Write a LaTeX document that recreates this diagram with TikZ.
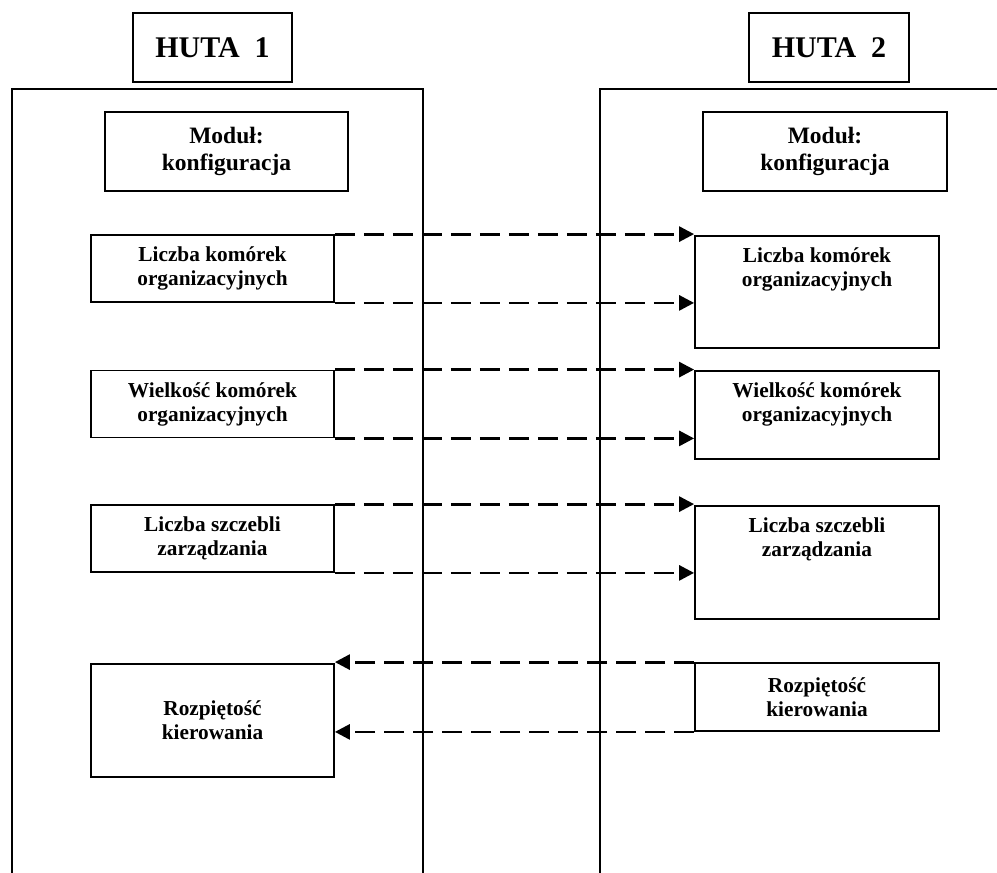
\documentclass[tikz,border=0pt]{standalone}
\usepackage{fontspec}
\setmainfont{Liberation Serif}
\usetikzlibrary{arrows.meta,positioning}

\begin{document}
\begin{tikzpicture}[
    x=1pt,y=-1pt,
    frame/.style={line width=2.4pt},
    title/.style={draw,line width=1.8pt,minimum width=159pt,minimum height=69pt,font=\fontsize{30}{36}\selectfont\bfseries},
    modul/.style={draw,line width=1.8pt,minimum width=243pt,minimum height=79pt,align=center,font=\fontsize{23.5}{27}\selectfont\bfseries},
    box/.style={draw,line width=1.8pt,minimum width=243pt,minimum height=67pt,align=center,font=\fontsize{21.3}{24}\selectfont\bfseries},
    txt/.style={box,draw=none},
    link/.style={->,line width=2.8pt,dash pattern=on 20pt off 9pt},
    >={Triangle[length=15pt,width=15pt]}]
  \useasboundingbox (0,0) rectangle (997,873);
  % huta 1
  \node[title] (h1) at (212.5,47.5) {HUTA~~1};
  \draw[frame] (12,873) |- (423,89) -- (423,873);
  \node[modul] (m1) at (226.5,151.5) {Moduł:\\konfiguracja};
  \node[box] (lk1) at (212.5,268.5) {Liczba komórek\\organizacyjnych};
  \node[box] (wk1) at (212.5,404) {Wielkość komórek\\organizacyjnych};
  \node[box] (ls1) at (212.5,538.5) {Liczba szczebli\\zarządzania};
  \node[box,minimum height=113pt,anchor=north] (rk1) at (212.5,663) {Rozpiętość\\kierowania};
  % huta 2
  \node[title,minimum width=160pt] (h2) at (829,47.5) {HUTA~~2};
  \draw[frame] (600,873) |- (997,89);
  \node[modul,minimum width=244pt] (m2) at (825,151.5) {Moduł:\\konfiguracja};
  \node[box,minimum width=244pt,minimum height=112pt,anchor=north] (lk2) at (817,235) {};
  \node[txt,anchor=north] (lk2t) at (lk2.north) {Liczba komórek\\organizacyjnych};
  \node[box,minimum width=244pt,minimum height=88pt,anchor=north] (wk2) at (817,370) {};
  \node[txt,anchor=north] (wk2t) at (wk2.north) {Wielkość komórek\\organizacyjnych};
  \node[box,minimum width=244pt,minimum height=113pt,anchor=north] (ls2) at (817,505) {};
  \node[txt,anchor=north] (ls2t) at (ls2.north) {Liczba szczebli\\zarządzania};
  \node[box,minimum width=244pt,minimum height=68pt] (rk2) at (817,697) {Rozpiętość\\kierowania};
  % przeplyw
  \draw[link] (lk1.north east) -- (lk1.north east -| lk2.west);
  \draw[link] (lk1.south east) -- (lk1.south east -| lk2.west);
  \draw[link] (wk1.north east) -- (wk1.north east -| wk2.west);
  \draw[link] (wk1.south east) -- (wk1.south east -| wk2.west);
  \draw[link] (ls1.north east) -- (ls1.north east -| ls2.west);
  \draw[link] (ls1.south east) -- (ls1.south east -| ls2.west);
  \draw[link] (rk2.north west) -- (rk2.north west -| rk1.east);
  \draw[link] (rk2.south west) -- (rk2.south west -| rk1.east);
\end{tikzpicture}
\end{document}
